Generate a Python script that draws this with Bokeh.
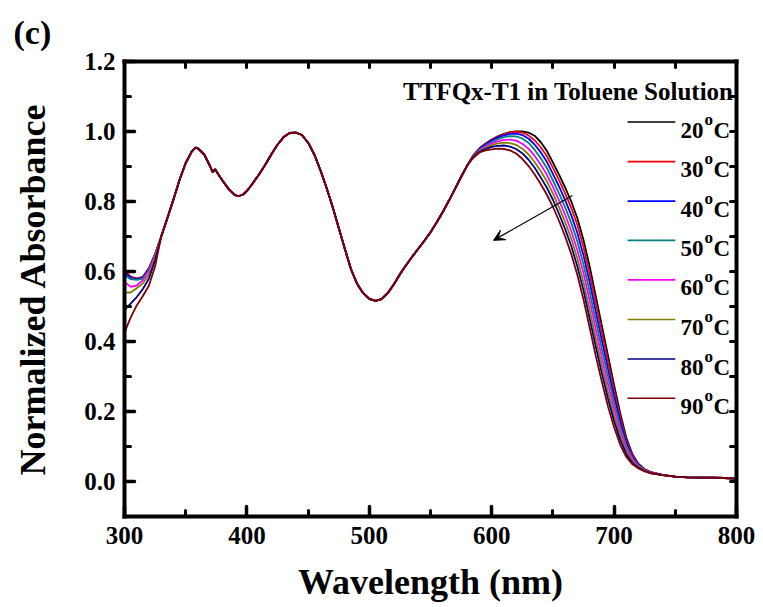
from bokeh.plotting import figure
from bokeh.models import (Range1d, LinearAxis, FixedTicker, PrintfTickFormatter,
                          Label, Arrow, VeeHead)
from bokeh.embed import file_html
from bokeh.resources import INLINE

FONT = "Liberation Serif"

# ---------------- data ----------------
temps = ["20", "30", "40", "50", "60", "70", "80", "90"]
colors = ["#000000", "#ff0000", "#0000ff", "#008080", "#ff00ff", "#808000", "#000080", "#800000"]

x_ticks = [300, 400, 500, 600, 700, 800]
x_minor = [350, 450, 550, 650, 750]
y_ticks = [0.0, 0.2, 0.4, 0.6, 0.8, 1.0, 1.2]
y_minor = [-0.1, 0.1, 0.3, 0.5, 0.7, 0.9, 1.1]

wl_head = [300, 305, 310, 315, 320, 325]
wl_mid = [330, 335, 340, 345, 350, 355, 358, 360, 365, 370, 372, 374, 377, 380, 385, 390, 393, 397,
          400, 405, 410, 415, 420, 425, 430, 435, 440, 445, 450, 455, 460, 465, 470, 475, 480, 485,
          490, 495, 500, 505, 510, 515, 520, 525, 530, 535, 540, 545, 550, 555, 560, 565, 570, 575, 580]
wl_edge = [585, 590, 595, 600, 605, 610, 615, 620, 625, 630, 635, 640, 645, 650, 655, 660, 665, 670,
           675, 680, 685, 690, 695, 700, 705, 710, 715, 720, 725, 730]
wl_tail = [740, 750, 760, 770, 780, 790, 800]

head_20 = [0.600, 0.585, 0.580, 0.585, 0.610, 0.650]
head_30 = [0.605, 0.585, 0.580, 0.583, 0.608, 0.650]
head_40 = [0.597, 0.582, 0.578, 0.582, 0.607, 0.648]
head_50 = [0.590, 0.578, 0.576, 0.580, 0.605, 0.647]
head_60 = [0.570, 0.556, 0.560, 0.575, 0.602, 0.645]
head_70 = [0.540, 0.540, 0.552, 0.566, 0.592, 0.640]
head_80 = [0.490, 0.508, 0.527, 0.550, 0.580, 0.632]
head_90 = [0.425, 0.468, 0.503, 0.530, 0.560, 0.615]

mid_shared = [0.700, 0.752, 0.806, 0.862, 0.910, 0.943, 0.954, 0.952, 0.935, 0.900, 0.884, 0.892,
              0.876, 0.860, 0.836, 0.819, 0.815, 0.820, 0.830, 0.853, 0.878, 0.905, 0.935, 0.962,
              0.984, 0.996, 0.997, 0.990, 0.968, 0.935, 0.890, 0.840, 0.785, 0.725, 0.665, 0.607,
              0.565, 0.538, 0.522, 0.516, 0.521, 0.538, 0.563, 0.592, 0.618, 0.642, 0.665, 0.688,
              0.712, 0.740, 0.770, 0.802, 0.836, 0.870, 0.903]

edge_20 = [0.932, 0.952, 0.966, 0.977, 0.986, 0.993, 0.998, 1.000, 1.000, 0.997, 0.988, 0.970, 0.945,
           0.912, 0.877, 0.840, 0.800, 0.752, 0.690, 0.615, 0.530, 0.445, 0.360, 0.275, 0.195, 0.125,
           0.078, 0.050, 0.035, 0.027]
edge_30 = [0.932, 0.951, 0.965, 0.976, 0.985, 0.992, 0.997, 0.999, 0.997, 0.989, 0.975, 0.955, 0.930,
           0.897, 0.861, 0.823, 0.782, 0.733, 0.670, 0.594, 0.510, 0.426, 0.343, 0.261, 0.184, 0.118,
           0.075, 0.048, 0.034, 0.027]
edge_40 = [0.931, 0.950, 0.963, 0.974, 0.983, 0.989, 0.993, 0.994, 0.990, 0.980, 0.963, 0.941, 0.914,
           0.879, 0.843, 0.804, 0.761, 0.710, 0.646, 0.570, 0.486, 0.403, 0.322, 0.244, 0.172, 0.111,
           0.070, 0.047, 0.033, 0.026]
edge_50 = [0.930, 0.948, 0.960, 0.970, 0.978, 0.984, 0.987, 0.986, 0.980, 0.968, 0.948, 0.924, 0.896,
           0.860, 0.823, 0.783, 0.739, 0.686, 0.620, 0.543, 0.460, 0.379, 0.301, 0.226, 0.158, 0.102,
           0.066, 0.045, 0.033, 0.025]
edge_60 = [0.929, 0.946, 0.956, 0.966, 0.972, 0.976, 0.977, 0.974, 0.965, 0.951, 0.931, 0.906, 0.877,
           0.842, 0.803, 0.762, 0.716, 0.661, 0.595, 0.517, 0.435, 0.355, 0.279, 0.208, 0.145, 0.094,
           0.062, 0.043, 0.032, 0.025]
edge_70 = [0.928, 0.944, 0.953, 0.961, 0.966, 0.968, 0.967, 0.962, 0.951, 0.935, 0.913, 0.887, 0.858,
           0.823, 0.783, 0.741, 0.694, 0.637, 0.569, 0.491, 0.409, 0.331, 0.257, 0.190, 0.131, 0.086,
           0.057, 0.041, 0.031, 0.024]
edge_80 = [0.927, 0.942, 0.950, 0.956, 0.959, 0.960, 0.957, 0.950, 0.938, 0.920, 0.897, 0.869, 0.840,
           0.805, 0.765, 0.721, 0.673, 0.614, 0.546, 0.466, 0.386, 0.309, 0.237, 0.173, 0.119, 0.078,
           0.053, 0.039, 0.030, 0.024]
edge_90 = [0.925, 0.940, 0.946, 0.949, 0.951, 0.950, 0.946, 0.937, 0.922, 0.902, 0.878, 0.850, 0.820,
           0.785, 0.745, 0.700, 0.650, 0.590, 0.520, 0.440, 0.360, 0.285, 0.215, 0.155, 0.105, 0.070,
           0.049, 0.037, 0.029, 0.023]

tail_shared = [0.018, 0.014, 0.012, 0.011, 0.011, 0.010, 0.008]

heads = [head_20, head_30, head_40, head_50, head_60, head_70, head_80, head_90]
edges = [edge_20, edge_30, edge_40, edge_50, edge_60, edge_70, edge_80, edge_90]

wavelength = wl_head + wl_mid + wl_edge + wl_tail

# ---------------- figure ----------------
p = figure(width=763, height=607, x_range=Range1d(300, 800), y_range=Range1d(-0.1, 1.2),
           output_backend="svg", toolbar_location=None,
           min_border_left=124, min_border_right=27, min_border_top=61, min_border_bottom=91,
           x_axis_label="Wavelength (nm)", y_axis_label="Normalized Absorbance",
           title="(c)")
p.outline_line_color = None
p.grid.visible = False
p.background_fill_color = "white"
p.border_fill_color = "white"

# panel tag "(c)" as the figure title, pushed to the far left
p.title.text_font = FONT
p.title.text_font_style = "bold"
p.title.text_font_size = "34px"
p.title.text_color = "black"
p.title.text_line_height = 1.0
p.title.align = "left"
p.title.offset = -111
p.title.standoff = 22


def style_axis(ax, labels=True):
    ax.axis_line_width = 4
    ax.axis_line_color = "black"
    ax.axis_line_cap = "square"
    ax.major_tick_out = 0
    ax.minor_tick_out = 0
    ax.major_tick_line_width = 3.5
    ax.minor_tick_line_width = 3
    ax.major_tick_line_cap = "round"
    ax.minor_tick_line_cap = "round"
    ax.major_tick_line_color = "black"
    ax.minor_tick_line_color = "black"
    ax.major_tick_in = 10
    ax.minor_tick_in = 6
    if labels:
        ax.major_label_text_font = FONT
        ax.major_label_text_font_style = "bold"
        ax.major_label_text_font_size = "25px"
        ax.major_label_text_color = "black"
        ax.axis_label_text_font = FONT
        ax.axis_label_text_font_style = "bold"
        ax.axis_label_text_font_size = "36px"
        ax.axis_label_text_color = "black"


xa = p.xaxis[0]
xa.ticker = FixedTicker(ticks=x_ticks, minor_ticks=x_minor)
style_axis(xa)
xa.major_label_standoff = 10
xa.axis_label_standoff = 15

ya = p.yaxis[0]
ya.ticker = FixedTicker(ticks=y_ticks, minor_ticks=y_minor)
ya.formatter = PrintfTickFormatter(format="%.1f")
style_axis(ya)
ya.major_label_standoff = 9
ya.axis_label_standoff = 28

# mirrored frame axes: ticks only (all as minor ticks, so no labels at all)
top = LinearAxis(ticker=FixedTicker(ticks=[], minor_ticks=x_ticks + x_minor))
style_axis(top, labels=False)
p.add_layout(top, "above")
right = LinearAxis(ticker=FixedTicker(ticks=[], minor_ticks=y_ticks + y_minor))
style_axis(right, labels=False)
p.add_layout(right, "right")

# ---------------- spectra ----------------
for t, c, h, e in zip(temps, colors, heads, edges):
    p.line(wavelength, h + mid_shared + e + tail_shared, line_color=c, line_width=1.8)

# ---------------- legend (custom, superscript o) ----------------
legend_rows = [1.027, 0.914, 0.801, 0.689, 0.576, 0.463, 0.350, 0.238]
p.segment(x0=[711] * 8, y0=legend_rows, x1=[750] * 8, y1=legend_rows,
          line_color=colors, line_width=1.6)
for t, yrow in zip(temps, legend_rows):
    p.add_layout(Label(x=754.2, y=yrow, text=t, x_offset=0, y_offset=-8,
                       text_font=FONT, text_font_style="bold", text_font_size="23px",
                       text_color="black", text_baseline="alphabetic", text_align="left"))
    p.add_layout(Label(x=754.2, y=yrow, text="o", x_offset=24, y_offset=3,
                       text_font=FONT, text_font_style="bold", text_font_size="17px",
                       text_color="black", text_baseline="alphabetic", text_align="left"))
    p.add_layout(Label(x=754.2, y=yrow, text="C", x_offset=33, y_offset=-8,
                       text_font=FONT, text_font_style="bold", text_font_size="23px",
                       text_color="black", text_baseline="alphabetic", text_align="left"))

p.add_layout(Label(x=797.5, y=1.113, text="TTFQx-T1 in Toluene Solution",
                   text_font=FONT, text_font_style="bold", text_font_size="25px",
                   text_color="black", text_baseline="alphabetic", text_align="right"))

# arrow (temperature increases)
p.add_layout(Arrow(end=VeeHead(size=11, line_color="black", fill_color="black", line_width=1),
                   x_start=666, y_start=0.817, x_end=601.5, y_end=0.689,
                   line_color="black", line_width=1.2))

open("out.html", "w").write(file_html(p, INLINE))
